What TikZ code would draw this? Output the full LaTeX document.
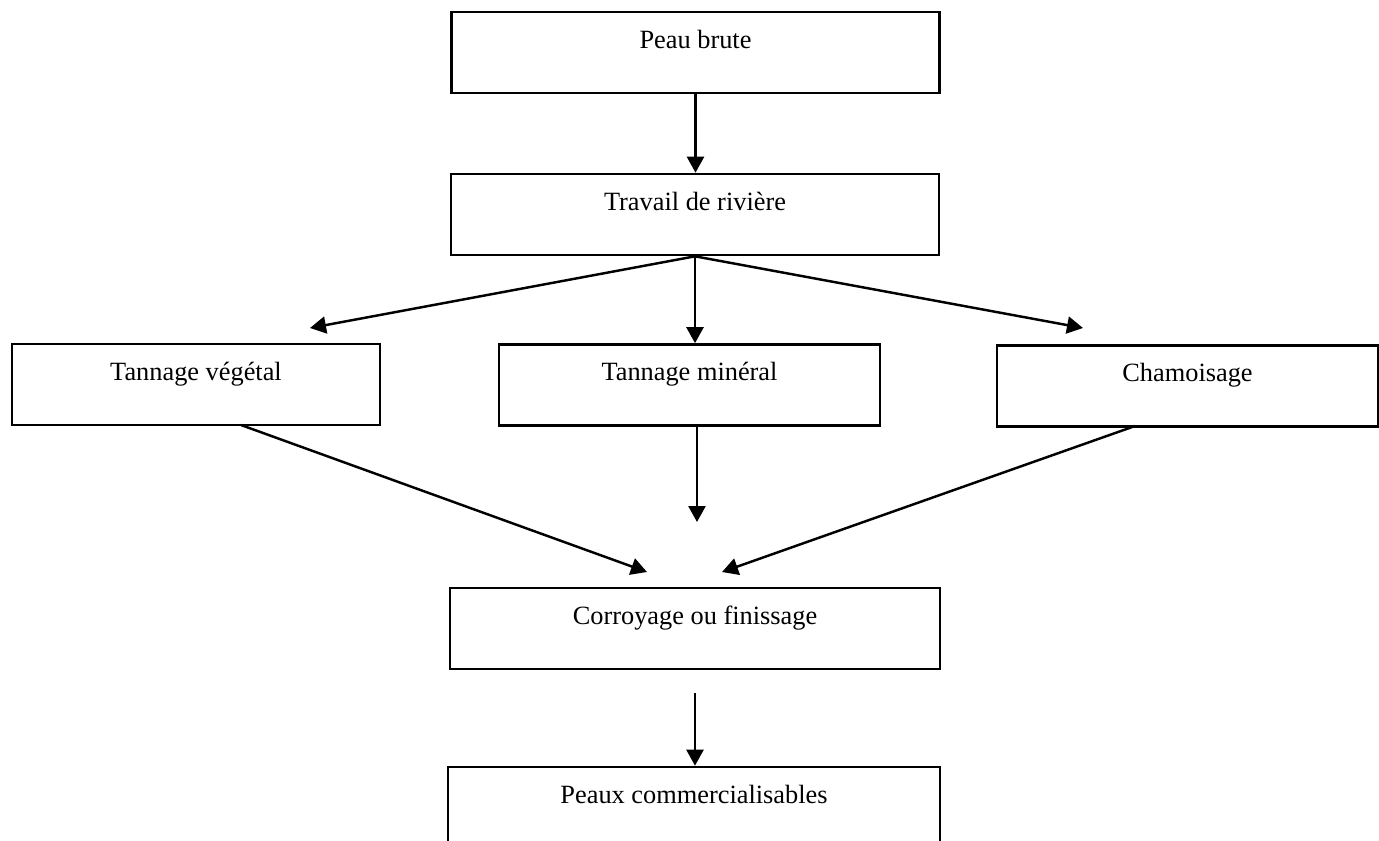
\documentclass[tikz,border=0pt]{standalone}
\usepackage{fontspec}
\setmainfont{Liberation Serif}
\usetikzlibrary{arrows.meta}

\begin{document}
\begin{tikzpicture}[x=0.02cm, y=-0.02cm,
  etape/.style={rectangle, draw, line width=1.5pt, minimum height=1.62cm,
    text height=0.35cm, text depth=0.53cm, font=\fontsize{15}{18}\selectfont},
  large/.style={etape, minimum width=9.76cm},
  etroite/.style={etape, minimum width=7.62cm},
  fleche/.style={line width=1.4pt, -{Triangle[length=0.32cm, width=0.34cm]}}]
  \useasboundingbox (0,0) rectangle (1379,840);
  \clip (0,0) rectangle (1379,840);

  \node[large] (peau) at (695.5,52.5) {Peau brute};
  \node[large] (travail) at (695,214.5) {Travail de rivière};
  \node[etape, minimum width=7.36cm] (vegetal) at (196,384.5) {Tannage végétal};
  \node[etroite] (mineral) at (689.5,385) {Tannage minéral};
  \node[etroite] (chamois) at (1187.5,386) {Chamoisage};
  \node[large, minimum width=9.8cm] (corroyage) at (695,628.5) {Corroyage ou finissage};
  \node[large, minimum width=9.84cm] (peaux) at (694,807.5) {Peaux commercialisables};

  % free ends of the arrows
  \coordinate (gauche) at (310,328);
  \coordinate (droite) at (1083,328);
  \coordinate (vg) at (241,425);
  \coordinate (cd) at (1135,426);
  \coordinate (entreeG) at (647,572);
  \coordinate (entreeD) at (722,572);
  \coordinate (basmin) at (697,522);
  \coordinate (depart) at (695,693);

  \draw[fleche] (peau.south) -- (peau.south |- travail.north);
  \draw[fleche] (travail.south) -- (gauche);
  \draw[fleche] (travail.south) -- (travail.south |- mineral.north);
  \draw[fleche] (travail.south) -- (droite);
  \draw[fleche] (vg) -- (entreeG);
  \draw[fleche] (basmin |- mineral.south) -- (basmin);
  \draw[fleche] (cd) -- (entreeD);
  \draw[fleche] (depart) -- (depart |- peaux.north);
\end{tikzpicture}
\end{document}
